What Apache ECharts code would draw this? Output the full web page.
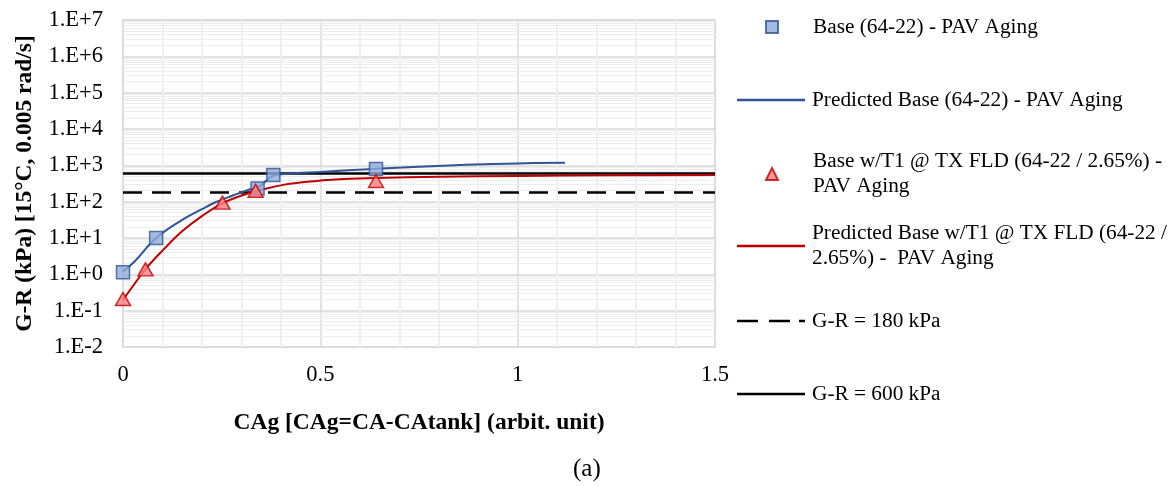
<!DOCTYPE html>
<html><head><meta charset="utf-8">
<script src="https://cdn.jsdelivr.net/npm/echarts@6/dist/echarts.min.js"></script>
<style>html,body{margin:0;padding:0;background:#fff}#c{width:1172px;height:486px}</style>
</head><body><div id="c"></div>
<script>
// ---- data ----
const xTickValues = [0, 0.5, 1, 1.5];
const yTickLabels = ['1.E-2','1.E-1','1.E+0','1.E+1','1.E+2','1.E+3','1.E+4','1.E+5','1.E+6','1.E+7'];

const baseX = [0, 0.084, 0.341, 0.381, 0.641];
const baseY = [1.15, 10, 230, 540, 790];

const predBaseX = [0, 0.03, 0.084, 0.149, 0.2, 0.233, 0.28, 0.317, 0.345, 0.381, 0.42, 0.5, 0.58, 0.641, 0.75, 0.87, 1.0, 1.12];
const predBaseY = [1.2, 2.3, 10, 31, 62, 95, 150, 210, 260, 520, 590, 660, 740, 800, 920, 1030, 1130, 1180];

const t1X = [0, 0.057, 0.252, 0.336, 0.641];
const t1Y = [0.21, 1.37, 94, 200, 370];

const predT1X = [0, 0.03, 0.057, 0.1, 0.149, 0.2, 0.252, 0.317, 0.345, 0.406, 0.49, 0.575, 0.641, 0.8, 1.0, 1.25, 1.5];
const predT1Y = [0.2, 0.56, 1.4, 4.5, 15, 40, 90, 170, 205, 290, 370, 425, 445, 485, 510, 530, 545];

const limitX = [0, 1.5];
const limit180 = [180, 180];
const limit600 = [600, 600];

const names = [
  'Base (64-22) - PAV Aging',
  'Predicted Base (64-22) - PAV Aging',
  'Base w/T1 @ TX FLD (64-22 / 2.65%) -\nPAV Aging',
  'Predicted Base w/T1 @ TX FLD (64-22 /\n2.65%) -  PAV Aging',
  'G-R = 180 kPa',
  'G-R = 600 kPa'
];

const zip = (xs, ys) => xs.map((x, i) => [x, ys[i]]);

// log minor gridline values (2..9 x 10^k) for the y axis range
const minorLogLines = [];
for (let k = -2; k < 7; k++) for (let m = 2; m <= 9; m++) minorLogLines.push({yAxis: m * Math.pow(10, k)});

// ---- chart ----
const FONT = "'Liberation Serif','Times New Roman',serif";
const chart = echarts.init(document.getElementById('c'), null, {renderer: 'canvas'});

const legendCenters = [27, 100, 174, 246, 321, 394];
const legendIcons = ['rect', 'path://M0,0h68v2.5h-68z', 'triangle', 'path://M0,0h68v2.5h-68z',
  'path://M0,0h21v2.5h-21zM32,0h21v2.5h-21zM62,0h6v2.5h-6z', 'path://M0,0h68v2.5h-68z'];
const isMarker = [true, false, true, false, false, false];
function mkLegend(i) {
  const two = names[i].indexOf('\n') >= 0;
  const mk = isMarker[i];
  const pt = two ? 25 : 0;
  return {
    data: [{name: names[i], icon: legendIcons[i]}],
    left: mk ? 765 : 737,
    top: legendCenters[i] - (two ? 37.5 : 12.5),
    padding: 0,
    itemWidth: mk ? 12 : 68,
    itemHeight: mk ? 12 : 2.5,
    selectedMode: false,
    textStyle: {fontFamily: FONT, fontSize: 21.3, color: '#000', lineHeight: 25,
      padding: [pt, 0, 0, mk ? 30 : 2]}
  };
}

chart.setOption({
  animation: false,
  textStyle: {fontFamily: FONT},
  grid: {left: 123, right: 457, top: 20, bottom: 139, show: true, borderColor: '#d9d9d9', borderWidth: 1.5},
  title: {text: '(a)', left: 568, top: 452, textStyle: {fontFamily: FONT, fontSize: 25, fontWeight: 'normal', color: '#000'}},
  legend: [0,1,2,3,4,5].map(mkLegend),
  xAxis: {
    type: 'value', min: 0, max: 1.5, interval: 0.5,
    name: 'CAg [CAg=CA-CAtank] (arbit. unit)', nameLocation: 'middle', nameGap: 64,
    nameTextStyle: {fontFamily: FONT, fontSize: 23.5, fontWeight: 'bold', color: '#000'},
    axisLine: {show: false}, axisTick: {show: false},
    axisLabel: {fontFamily: FONT, fontSize: 22.5, color: '#000', margin: 17,
      formatter: v => { const i = xTickValues.indexOf(v); return i >= 0 ? String(xTickValues[i]) : ''; }},
    splitLine: {show: true, lineStyle: {color: '#d9d9d9', width: 1.5}},
    minorTick: {show: false, splitNumber: 5},
    minorSplitLine: {show: true, lineStyle: {color: '#efefef', width: 2}}
  },
  yAxis: {
    type: 'log', logBase: 10, min: 0.01, max: 1e7,
    name: 'G-R (kPa) [15°C, 0.005 rad/s]', nameLocation: 'middle', nameGap: 86,
    nameTextStyle: {fontFamily: FONT, fontSize: 23.5, fontWeight: 'bold', color: '#000'},
    axisLine: {show: false}, axisTick: {show: false},
    axisLabel: {fontFamily: FONT, fontSize: 22.5, color: '#000', margin: 20,
      formatter: v => { const e = Math.round(Math.log10(v)); return yTickLabels[e + 2] || ''; }},
    splitLine: {show: true, lineStyle: {color: '#d9d9d9', width: 1.5}},
    minorSplitLine: {show: false}
  },
  series: [
    {name: names[0], type: 'scatter', data: zip(baseX, baseY), symbol: 'rect', symbolSize: 13, z: 5,
      itemStyle: {color: '#8eaadb', borderColor: '#2f5597', borderWidth: 1.5}},
    {name: names[1], type: 'line', data: zip(predBaseX, predBaseY), symbol: 'none', smooth: 0.4, z: 3,
      lineStyle: {color: '#2f5597', width: 2}, itemStyle: {color: '#2f5597'}},
    {name: names[2], type: 'scatter', data: zip(t1X, t1Y), symbol: 'triangle', symbolSize: [15, 13], z: 6,
      itemStyle: {color: '#ff7c80', borderColor: '#c00000', borderWidth: 1.5}},
    {name: names[3], type: 'line', data: zip(predT1X, predT1Y), symbol: 'none', smooth: 0.4, z: 3,
      lineStyle: {color: '#c00000', width: 2}, itemStyle: {color: '#c00000'}},
    {name: names[4], type: 'line', data: zip(limitX, limit180), symbol: 'none', z: 2,
      lineStyle: {color: '#000', width: 2.5, type: [19, 10]}, itemStyle: {color: '#000'},
      markLine: {silent: true, symbol: 'none', label: {show: false}, animation: false, z: 0,
        lineStyle: {color: '#ededed', width: 1, type: 'solid'}, data: minorLogLines}},
    {name: names[5], type: 'line', data: zip(limitX, limit600), symbol: 'none', z: 2,
      lineStyle: {color: '#000', width: 2.5}, itemStyle: {color: '#000'}}
  ]
});
</script></body></html>
